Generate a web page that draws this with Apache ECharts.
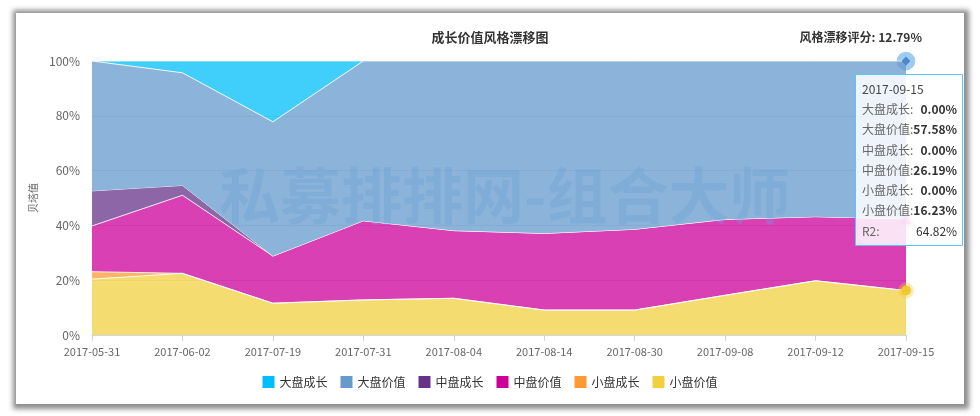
<!DOCTYPE html>
<html>
<head>
<meta charset="utf-8">
<script src="https://cdn.jsdelivr.net/npm/echarts@6/dist/echarts.min.js"></script>
<style>
  html, body { margin: 0; padding: 0; background: #fff; }
  #card { position: absolute; left: 16px; top: 13px; width: 948px; height: 391px; background: #fff;
          box-shadow: 1px 1px 5px 4px rgba(0,0,0,0.45); }
  #chart { position: absolute; left: 0; top: 0; width: 980px; height: 416px; }
</style>
</head>
<body>
<div id="card"></div>
<div id="chart"></div>
<script>
const categories = ['2017-05-31','2017-06-02','2017-07-19','2017-07-31','2017-08-04','2017-08-14','2017-08-30','2017-09-08','2017-09-12','2017-09-15'];
const largeGrowth = [0, 4.3, 22.2, 0, 0, 0, 0, 0, 0, 0];
const largeValue  = [47.4, 41.1, 49.0, 58.3, 61.9, 62.9, 61.4, 57.8, 56.8, 57.58];
const midGrowth   = [12.8, 3.6, 0, 0, 0, 0, 0, 0, 0, 0];
const midValue    = [16.7, 28.5, 17.2, 28.9, 24.7, 28.0, 29.5, 27.7, 23.4, 26.19];
const smallGrowth = [2.7, 0, 0, 0, 0, 0, 0, 0, 0, 0];
const smallValue  = [20.4, 22.5, 11.6, 12.8, 13.4, 9.1, 9.1, 14.5, 19.8, 16.23];
const seriesNames = ['大盘成长','大盘价值','中盘成长','中盘价值','小盘成长','小盘价值'];
const seriesValues = [largeGrowth, largeValue, midGrowth, midValue, smallGrowth, smallValue];
const seriesColors = ['#00bff8','#6699cc','#663388','#cc0099','#ff9933','#f0d040'];
const r2Label = 'R2:';
const r2Value = '64.82%';
const scoreText = '风格漂移评分: 12.79%';
const titleText = '成长价值风格漂移图';
const yAxisName = '贝塔值';
const watermark = '私募排排网-组合大师';
const hoverIndex = 9;

const FONT = '"Noto Sans CJK SC", "Microsoft YaHei", sans-serif';

const markerStyles = {
  '大盘成长': { symbol: 'circle', symbolSize: 17, itemStyle: { color: 'rgba(125,185,235,0.75)' } },
  '大盘价值': { symbol: 'diamond', symbolSize: 8, itemStyle: { color: '#4f87c8' } },
  '中盘价值': { symbol: 'triangle', symbolSize: 10, itemStyle: { color: 'rgba(204,0,153,0.5)', borderColor: 'rgba(204,0,153,0.2)', borderWidth: 6 } },
  '小盘价值': { symbol: 'circle', symbolSize: 9, itemStyle: { color: '#f0c830', borderColor: 'rgba(240,200,48,0.35)', borderWidth: 6 } }
};

// stack from bottom: reverse of legend order
const series = [];
for (let k = seriesNames.length - 1; k >= 0; k--) {
  const name = seriesNames[k];
  const vals = seriesValues[k];
  const mk = markerStyles[name];
  series.push({
    name: name,
    type: 'line',
    stack: 'total',
    z: name === '大盘价值' ? 4 : 2,
    symbol: 'none',
    showSymbol: true,
    showAllSymbol: true,
    color: seriesColors[k],
    itemStyle: { color: seriesColors[k] },
    lineStyle: { color: 'rgba(255,255,255,0.85)', width: 1 },
    areaStyle: { color: seriesColors[k], opacity: 0.75 },
    emphasis: { disabled: true },
    data: vals.map((v, i) => (i === hoverIndex && mk) ? Object.assign({ value: v }, mk) : v)
  });
}

const chart = echarts.init(document.getElementById('chart'), null, { renderer: 'canvas' });
chart.setOption({
  animation: false,
  backgroundColor: 'transparent',
  title: {
    text: titleText, left: 'center', top: 26,
    textStyle: { fontFamily: FONT, fontSize: 13, fontWeight: 'bold', color: '#333' }
  },
  graphic: [
    { type: 'text', z: 3, zlevel: 0, left: 219, top: 165,
      style: { text: watermark, font: 'bold 61px ' + FONT, fill: 'rgba(95,178,245,0.28)' } },
    { type: 'text', right: 58, top: 31,
      style: { text: scoreText, font: 'bold 12px ' + FONT, fill: '#333' } }
  ],
  grid: { left: 92, right: 74, top: 61, bottom: 81 },
  legend: {
    data: seriesNames, bottom: 23, left: 'center',
    icon: 'rect', itemWidth: 12, itemHeight: 12, itemGap: 13,
    textStyle: { fontFamily: FONT, fontSize: 12, color: '#333' }
  },
  tooltip: {
    trigger: 'axis',
    alwaysShowContent: true,
    axisPointer: { type: 'none' },
    position: function () { return [855, 74]; },
    backgroundColor: 'rgba(255,255,255,0.85)',
    borderColor: '#56c6f2',
    borderWidth: 1,
    padding: [4, 5, 4, 6],
    extraCssText: 'box-shadow:none;border-radius:1px;',
    textStyle: { fontFamily: FONT, fontSize: 12, color: '#444' },
    formatter: function (params) {
      const idx = params[0].dataIndex;
      let html = '<div style="line-height:20px;font-size:12px;color:#444">' + categories[idx] + '</div>';
      html += '<table style="border-collapse:collapse;font-size:12px;line-height:20.3px;color:#666">';
      for (let k = 0; k < seriesNames.length; k++) {
        html += '<tr><td style="padding:0">' + seriesNames[k] + ':</td><td style="padding:0;text-align:right;font-weight:bold;color:#333">' +
                seriesValues[k][idx].toFixed(2) + '%</td></tr>';
      }
      html += '<tr><td style="padding:0">' + r2Label + '</td><td style="padding:0;text-align:right;color:#333">' + r2Value + '</td></tr>';
      html += '</table>';
      return html;
    }
  },
  xAxis: {
    type: 'category', data: categories, boundaryGap: false,
    axisLine: { lineStyle: { color: '#ccd6eb' } },
    axisTick: { show: true, length: 6, lineStyle: { color: '#ccd6eb' } },
    axisLabel: { fontFamily: FONT, fontSize: 11, color: '#666', margin: 11 },
    splitLine: { show: false }
  },
  yAxis: {
    type: 'value', min: 0, max: 100, interval: 20,
    name: yAxisName, nameLocation: 'middle', nameGap: 49, nameRotate: 90,
    nameTextStyle: { fontFamily: FONT, fontSize: 10, color: '#666' },
    axisLine: { show: false }, axisTick: { show: false },
    axisLabel: { fontFamily: FONT, fontSize: 12, color: '#666', margin: 12, formatter: '{value}%' },
    splitLine: { lineStyle: { color: '#e0e0e0' } }
  },
  series: series
});
chart.dispatchAction({ type: 'showTip', seriesIndex: 0, dataIndex: hoverIndex });
</script>
</body>
</html>
